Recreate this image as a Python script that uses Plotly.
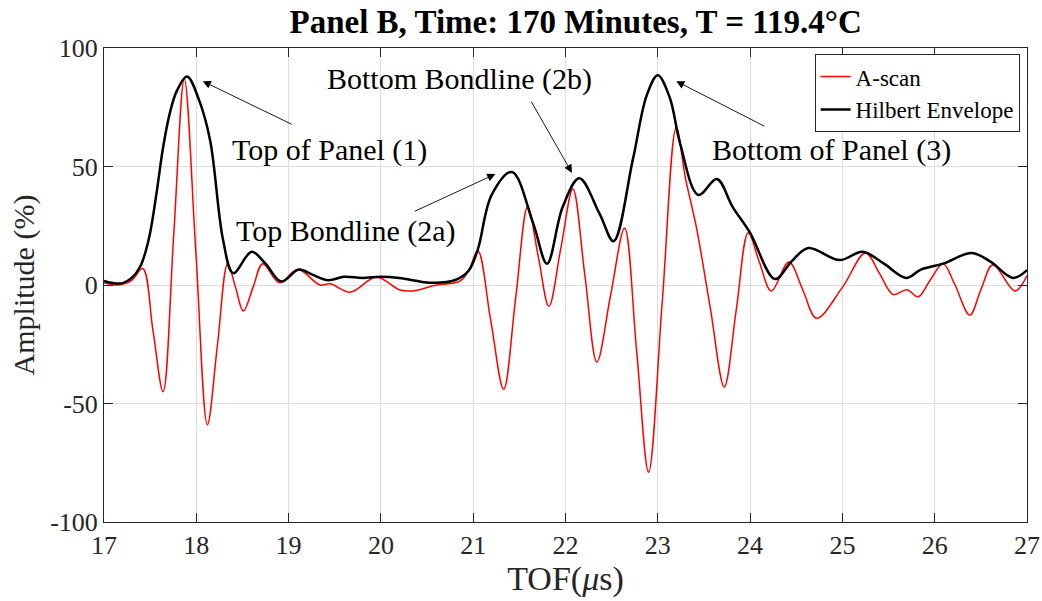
import plotly.graph_objects as go

# A-scan (red) key samples
ascan_x = [17.0, 17.15, 17.3, 17.42, 17.53, 17.64, 17.755, 17.87, 17.995, 18.12, 18.23, 18.34, 18.425,
           18.51, 18.615, 18.72, 18.9, 19.1, 19.34, 19.45, 19.67, 19.95, 20.2, 20.35, 20.6, 20.85,
           20.95, 21.05, 21.19, 21.33, 21.46, 21.59, 21.705, 21.82, 21.95, 22.08, 22.21, 22.34,
           22.49, 22.64, 22.77, 22.9, 23.05, 23.2, 23.3, 23.42, 23.57, 23.72, 23.85, 23.98, 24.1,
           24.23, 24.42, 24.57, 24.72, 25.0, 25.25, 25.4, 25.55, 25.7, 25.82, 25.95, 26.09, 26.22,
           26.38, 26.5, 26.63, 26.87, 27.0]
ascan_y = [1, 0, 2, 7, -19, -45, 21, 87, 14, -59, -25, 9, -1,
           -11, -1, 9, 1, 6.5, 0, 0.5, -3, 3.4, -2, -2.5, 0, 1.5,
           6, 14.5, -15, -44, -5.5, 33, 12, -9, 15.7, 40.5, 4, -32.5,
           -4, 24, -27.5, -79, -6, 66.5, 45, 24, -10, -43, -10.5, 22, 9.7,
           -2.5, 9.7, -2, -14, -1, 13.5, 5, -4, -2, -5, 2, 9, 0,
           -12.7, -2, 8.5, -2.5, 4]

# Hilbert envelope (black) key samples
env_x = [17.0, 17.1, 17.2, 17.3, 17.39, 17.45, 17.5, 17.57, 17.64, 17.71, 17.79, 17.9, 18.03, 18.15,
         18.29, 18.4, 18.6, 18.75, 18.92, 19.11, 19.25, 19.43, 19.6, 19.8, 20.0, 20.2, 20.53, 20.8,
         20.95, 21.05, 21.2, 21.42, 21.65, 21.8, 21.97, 22.15, 22.37, 22.52, 22.73, 22.88, 23.0,
         23.13, 23.24, 23.44, 23.64, 23.81, 24.0, 24.27, 24.45, 24.63, 24.97, 25.22, 25.45, 25.69,
         25.85, 26.09, 26.4, 26.6, 26.85, 27.0]
env_y = [1.7, 0.8, 0.8, 3, 7.6, 14, 22, 39, 58, 72, 82, 88, 78, 61,
         19, 5, 14, 9, 1.5, 6.5, 4.5, 2, 3.5, 3, 3.5, 3, 1, 2,
         6, 15, 38, 47.7, 26, 9, 33, 45, 30, 18.5, 53, 80, 88.5,
         79, 60, 38, 44.7, 33, 22, 2.5, 10, 15.6, 10.5, 14, 9, 3,
         6.5, 9, 13.5, 10, 3, 6.3]

y_ticks = [-100, -50, 0, 50, 100]
y_tick_labels = ["-100", "-50", "0", "50", "100"]
x_ticks = [17, 18, 19, 20, 21, 22, 23, 24, 25, 26, 27]

# annotation texts and anchor values (data units)
ann_texts = ["Top of Panel (1)", "Bottom Bondline (2b)", "Top Bondline (2a)", "Bottom of Panel (3)"]
ann_pos = [(19.44, 57), (20.85, 87), (19.62, 22.8), (24.88, 57)]
arrow_heads = [(18.07, 86), (22.07, 47.3), (21.24, 46.8), (23.2, 86)]
arrow_tails = [(19.05, 67.5), (21.62, 78), (20.35, 30.8), (24.17, 66.7)]

FONT = "Liberation Serif"
AX = "#262626"

fig = go.Figure()
fig.add_trace(go.Scatter(x=ascan_x, y=ascan_y, mode="lines", name="A-scan",
                         line=dict(color="#ff0000", width=1.5, shape="spline", smoothing=1.0)))
fig.add_trace(go.Scatter(x=env_x, y=env_y, mode="lines", name="Hilbert Envelope",
                         line=dict(color="#000000", width=2.5, shape="spline", smoothing=1.0)))

annotations = []
for (hx, hy), (tx, ty) in zip(arrow_heads, arrow_tails):
    annotations.append(dict(x=hx, y=hy, ax=tx, ay=ty, xref="x", yref="y", axref="x", ayref="y",
                            text="", showarrow=True, arrowhead=2, arrowsize=1.8, arrowwidth=0.9,
                            arrowcolor="#000000"))
for t, (px, py) in zip(ann_texts, ann_pos):
    annotations.append(dict(x=px, y=py, xref="x", yref="y", text=t, showarrow=False,
                            font=dict(family=FONT, size=30, color="#000000")))

fig.update_layout(
    width=1042, height=601,
    margin=dict(l=104, r=15, t=48, b=79),
    paper_bgcolor="white", plot_bgcolor="white",
    font=dict(family=FONT, color=AX),
    title=dict(text="<b>Panel B, Time: 170 Minutes, T = 119.4°C</b>",
               x=0.511, xref="paper", xanchor="center", y=0.965, yanchor="middle",
               font=dict(family=FONT, size=33, color="#000000")),
    legend=dict(x=0.992, y=0.987, xanchor="right", yanchor="top",
                bgcolor="white", bordercolor="#262626", borderwidth=1,
                font=dict(family=FONT, size=23, color="#000000"),
                tracegroupgap=0),
    annotations=annotations,
    showlegend=True,
)
fig.update_xaxes(range=[17, 27], tickvals=x_ticks, showgrid=True, gridcolor="#dcdcdc", gridwidth=1,
                 zeroline=False, showline=True, linecolor=AX, linewidth=1, mirror="ticks",
                 ticks="inside", ticklen=9, tickcolor=AX, automargin=False,
                 tickfont=dict(family=FONT, size=26, color=AX),
                 title=dict(text="TOF(<i>μ</i>s)", font=dict(family=FONT, size=34, color=AX), standoff=2))
fig.update_yaxes(range=[-100, 100], tickvals=y_ticks, ticktext=y_tick_labels, showgrid=True,
                 gridcolor="#dcdcdc", gridwidth=1, zeroline=False, showline=True, linecolor=AX,
                 linewidth=1, mirror="ticks", ticks="inside", ticklen=9, tickcolor=AX, automargin=False,
                 tickfont=dict(family=FONT, size=26, color=AX),
                 title=dict(text="Amplitude (%)", font=dict(family=FONT, size=30, color=AX), standoff=6))

fig.write_html("out.html")
